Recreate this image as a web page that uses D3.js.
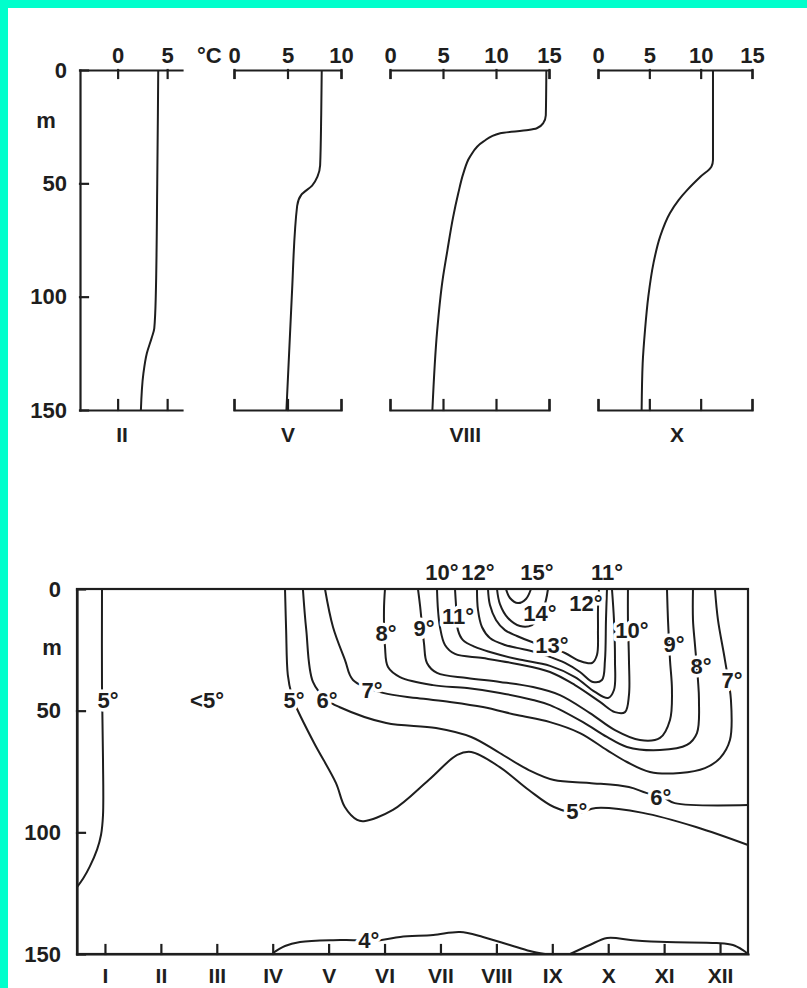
<!DOCTYPE html>
<html>
<head>
<meta charset="utf-8">
<script src="https://cdn.jsdelivr.net/npm/d3@7"></script>
<style>
body { margin: 0; background: #fff; }
text { font-family: "Liberation Sans", Arial, sans-serif; font-weight: bold; fill: #1e1e1e; }
</style>
</head>
<body>
<script>
// ---- top: vertical temperature profiles (depth in m, temperature in °C) ----
var profileMonths = ["II", "V", "VIII", "X"];
var depthII = [0, 50, 100, 114, 118, 125, 134, 150];
var tempII = [4.1, 4.0, 3.85, 3.7, 3.45, 2.95, 2.6, 2.35];
var depthV = [0, 20, 42, 47, 51, 55, 60, 100, 150];
var tempV = [8.2, 8.15, 8.05, 7.8, 7.3, 6.3, 5.9, 5.4, 4.9];
var depthVIII = [0, 20, 23.5, 25.7, 26.5, 27.9, 31.6, 38.2, 45.6, 54.4, 65, 80, 93, 115, 150];
var tempVIII = [14.75, 14.7, 14.45, 13.85, 13.05, 10.4, 8.8, 7.55, 6.92, 6.44, 5.95, 5.4, 4.95, 4.45, 4.0];
var depthX = [0, 39.7, 42.6, 47, 52.9, 57.4, 63.2, 73.5, 85.3, 100, 114.7, 129.5, 150];
var tempX = [11.2, 11.2, 11.05, 10.0, 8.7, 7.85, 7.0, 6.05, 5.4, 4.9, 4.58, 4.35, 4.25];
var profileTicks = [[0, 5], [0, 5, 10], [0, 5, 10, 15], [0, 5, 10, 15]];
var depthTicks = [0, 50, 100, 150];

// ---- bottom: isotherms, [month position 0-12, depth m] ----
var monthNames = ["I", "II", "III", "IV", "V", "VI", "VII", "VIII", "IX", "X", "XI", "XII"];
var iso4a = [[3.505,149.6],[3.72,146.7],[3.99,145.1],[4.58,144.3],[4.94,144.3],[5.42,144.3],[5.78,143],[6.37,142.2],[6.85,141],[7.26,143],[7.74,146.3],[8.10,148.8],[8.37,150]];
var iso4b = [[8.82,150],[9.17,146.3],[9.48,143.4],[9.94,144.3],[10.55,145.1],[11.44,145.5],[11.73,146.3],[11.91,148.4],[12,150]];
var iso5west = [[0.447,0],[0.447,40],[0.465,70],[0.465,93],[0.43,101],[0.36,107],[0.23,114],[0.11,119],[0,122.5]];
var iso5 = [[3.72,0],[3.74,16.8],[3.77,35.3],[3.84,43.6],[3.92,48.5],[4.24,63.3],[4.63,79.7],[4.79,89.6],[5.01,94.9],[5.13,95.4],[5.65,90.8],[6.29,78.5],[6.80,68.2],[7.05,67],[7.56,73.2],[8.08,82.6],[8.53,89.6],[8.96,92],[9.28,90],[10.12,92],[11.07,97.8],[12,105.2]];
var iso6 = [[4.04,0],[4.10,16.8],[4.22,38.2],[4.47,45.6],[4.69,48.5],[5.53,55.1],[6.42,57.1],[7.05,60.8],[7.56,67.4],[8.08,74.4],[8.53,78.5],[9.16,79.7],[9.87,81.4],[10.18,83.8],[10.50,85.9],[10.69,88],[12,88.8]];
var iso7 = [[4.435,0],[4.578,15.6],[4.793,29.2],[4.936,37.4],[5.472,42.7],[6.080,44.8],[6.670,46.4],[7.260,48.5],[7.868,51.8],[8.459,54.7],[8.995,59.2],[9.478,66.2],[9.835,71.1],[10.247,75.2],[10.783,75.6],[11.230,73.6],[11.499,69.5],[11.677,62.1],[11.695,45.6],[11.588,29.2],[11.463,12.7],[11.409,0]];
var iso8 = [[5.508,0],[5.490,8.6],[5.508,23.8],[5.562,32.1],[5.776,36.2],[6.366,39.5],[6.974,40.7],[7.564,42.7],[8.155,45.6],[8.459,47.7],[9.049,54.7],[9.478,60.8],[9.835,64.9],[10.426,66.2],[10.908,64.1],[11.087,59.2],[11.123,45.6],[11.105,37.4],[11.052,23.0],[11.016,12.7],[11.016,0]];
var iso9 = [[6.098,0],[6.134,6.6],[6.205,22.2],[6.259,30.4],[6.438,34.5],[6.974,36.6],[7.564,38.2],[8.155,40.3],[8.637,43.6],[9.174,51.0],[9.621,58.0],[10.068,62.1],[10.426,61.2],[10.605,53.8],[10.640,41.5],[10.605,29.2],[10.569,12.7],[10.551,0]];
var iso10 = [[6.438,0],[6.456,8.6],[6.491,15.6],[6.581,23.0],[6.760,26.7],[7.260,28.4],[7.868,30.8],[8.459,34.1],[8.906,39.5],[9.353,46.4],[9.621,50.6],[9.800,50.6],[9.871,43.6],[9.871,29.2],[9.853,12.7],[9.853,0]];
var iso11 = [[6.760,0],[6.778,6.6],[6.813,16.9],[6.903,21.0],[7.117,23.8],[7.385,25.9],[7.868,28.8],[8.459,31.6],[8.906,36.2],[9.263,42.3],[9.496,44.8],[9.603,41.5],[9.621,29.2],[9.603,12.7],[9.567,0]];
var iso12 = [[7.153,0],[7.171,8.6],[7.242,15.6],[7.385,20.1],[7.654,23.0],[7.868,24.2],[8.190,25.9],[8.459,27.9],[8.727,30.4],[8.995,34.1],[9.227,38.2],[9.388,37.4],[9.442,29.2],[9.460,12.7],[9.478,0]];
var iso13 = [[7.350,0],[7.385,6.6],[7.493,12.7],[7.654,16.9],[7.868,19.3],[8.137,21.8],[8.459,24.2],[8.727,26.3],[8.995,29.6],[9.210,30.4],[9.299,27.1],[9.317,16.9],[9.317,8.6],[9.335,0]];
var iso14 = [[7.511,0],[7.564,6.2],[7.707,11.9],[7.922,15.2],[8.137,14.8],[8.316,9.5],[8.387,4.5],[8.423,0]];
var iso15 = [[7.672,0],[7.743,3.7],[7.886,5.8],[8.029,4.1],[8.119,0]];

// labels on the isotherms
var labelText = ["4°","5°","<5°","5°","5°","6°","6°","7°","7°","8°","8°","9°","9°","10°","11°","12°","13°","14°"];
var labelMonth = [5.22,0.554,2.325,3.88,8.94,4.47,10.44,5.275,11.713,5.526,11.159,6.205,10.676,9.925,6.813,9.102,8.494,8.280];
var labelDepth = [144.3,45.6,45.6,45.6,91.4,45.6,85.5,41.5,37.4,18.1,31.6,16.0,22.6,16.9,11.1,5.8,23.0,9.9];
// labels written above the surface line
var surfaceText = ["10°","12°","15°","11°"];
var surfaceMonth = [6.527,7.171,8.226,9.478];

// ---- drawing ----
var W = 807, H = 988;
var ink = "#1e1e1e";

var svg = d3.select("body").append("svg")
            .attr("width", W)
            .attr("height", H);

svg.append("rect").attr("width", W).attr("height", H).attr("fill", "#fff");
svg.append("rect").attr("width", 8).attr("height", H).attr("fill", "#00ffcc");
svg.append("rect").attr("width", W).attr("height", 8).attr("fill", "#00ffcc");

function styleAxis(g, size){
  g.attr("font-family", null).attr("font-size", null).attr("color", ink);
  g.selectAll("path, line").attr("stroke-width", 2.2).attr("stroke-linecap", "square");
  g.selectAll("text").style("font-size", size + "px");
}

// top panels
var profiles = [
  {d: depthII, t: tempII},
  {d: depthV, t: tempV},
  {d: depthVIII, t: tempVIII},
  {d: depthX, t: tempX}
];
var panelLeft = [80, 234, 390, 598];
var panelRight = [182, 341, 549, 752];
var panelDomain = [[-3.8, 6.5], [0, 10], [0, 15], [0, 15]];
var panelLabelAt = [0.45, 5.05, 7.1, 7.7];

var yTop = d3.scaleLinear().domain([0, 150]).range([70, 410]);

profiles.forEach(function(p, i){
  var x = d3.scaleLinear().domain(panelDomain[i]).range([panelLeft[i], panelRight[i]]);
  var outer = i === 0 ? 0 : 8;

  svg.append("g")
     .attr("transform", "translate(0," + yTop(0) + ")")
     .call(d3.axisTop(x).tickValues(profileTicks[i]).tickSize(-8).tickSizeOuter(-outer).tickPadding(7))
     .call(styleAxis, 22);

  svg.append("g")
     .attr("transform", "translate(0," + yTop(150) + ")")
     .call(d3.axisBottom(x).tickValues(profileTicks[i]).tickSize(-10).tickSizeOuter(-outer * 1.2).tickFormat(""))
     .call(styleAxis, 22);

  var pts = p.d.map(function(d, k){ return {d: d, t: p.t[k]}; });
  var line = d3.line()
               .x(function(v){ return x(v.t); })
               .y(function(v){ return yTop(v.d); })
               .curve(d3.curveMonotoneY);
  svg.append("path")
     .attr("d", line(pts))
     .attr("fill", "none")
     .attr("stroke", ink)
     .attr("stroke-width", 2);

  svg.append("text")
     .attr("x", x(panelLabelAt[i]))
     .attr("y", 442)
     .attr("text-anchor", "middle")
     .style("font-size", "21px")
     .text(profileMonths[i]);

  if(i === 0){
    svg.append("g")
       .attr("transform", "translate(" + panelLeft[0] + ",0)")
       .call(d3.axisLeft(yTop).tickValues(depthTicks).tickSize(-8).tickSizeOuter(0).tickPadding(13))
       .call(styleAxis, 22);
    svg.append("text").attr("x", 197).attr("y", 63).style("font-size", "22px").text("°C");
  }
});
svg.append("text").attr("x", 46).attr("y", 128).attr("text-anchor", "middle").style("font-size", "22px").text("m");

// bottom panel: isotherm section
var xBot = d3.scaleLinear().domain([0, 12]).range([77, 748]);
var yBot = d3.scaleLinear().domain([0, 150]).range([589, 954]);

var iso = d3.line()
            .x(function(v){ return xBot(v[0]); })
            .y(function(v){ return yBot(v[1]); })
            .curve(d3.curveCatmullRom.alpha(0.5));

var isotherms = [iso4a, iso4b, iso5west, iso5, iso6, iso7, iso8, iso9, iso10, iso11, iso12, iso13, iso14, iso15];
svg.append("g").selectAll("path")
   .data(isotherms)
   .enter()
   .append("path")
   .attr("d", iso)
   .attr("fill", "none")
   .attr("stroke", ink)
   .attr("stroke-width", 2);

svg.append("g").selectAll("text")
   .data(labelText)
   .enter()
   .append("text")
   .attr("x", function(v, k){ return xBot(labelMonth[k]); })
   .attr("y", function(v, k){ return yBot(labelDepth[k]); })
   .attr("dy", "0.36em")
   .attr("text-anchor", "middle")
   .style("font-size", "22px")
   .style("stroke", "#fff")
   .style("stroke-width", 7)
   .style("stroke-linejoin", "round")
   .style("paint-order", "stroke")
   .text(function(v){ return v; });

svg.append("g").selectAll("text")
   .data(surfaceText)
   .enter()
   .append("text")
   .attr("x", function(v, k){ return xBot(surfaceMonth[k]); })
   .attr("y", yBot(0) - 9)
   .attr("text-anchor", "middle")
   .style("font-size", "22px")
   .text(function(v){ return v; });

// frame and axes
svg.append("rect")
   .attr("x", xBot(0)).attr("y", yBot(0))
   .attr("width", xBot(12) - xBot(0)).attr("height", yBot(150) - yBot(0))
   .attr("fill", "none").attr("stroke", ink).attr("stroke-width", 2.2);

svg.append("g")
   .attr("transform", "translate(" + xBot(0) + ",0)")
   .call(d3.axisLeft(yBot).tickValues(depthTicks).tickSize(-8).tickSizeOuter(0).tickPadding(16))
   .call(styleAxis, 22);

svg.append("g")
   .attr("transform", "translate(0," + yBot(150) + ")")
   .call(d3.axisBottom(xBot)
           .tickValues(monthNames.map(function(m, k){ return k + 0.5; }))
           .tickFormat(function(v, k){ return monthNames[k]; })
           .tickSize(-9).tickSizeOuter(0).tickPadding(14))
   .call(styleAxis, 21);

svg.append("text").attr("x", 52).attr("y", 655).attr("text-anchor", "middle").style("font-size", "22px").text("m");
</script>
</body>
</html>
